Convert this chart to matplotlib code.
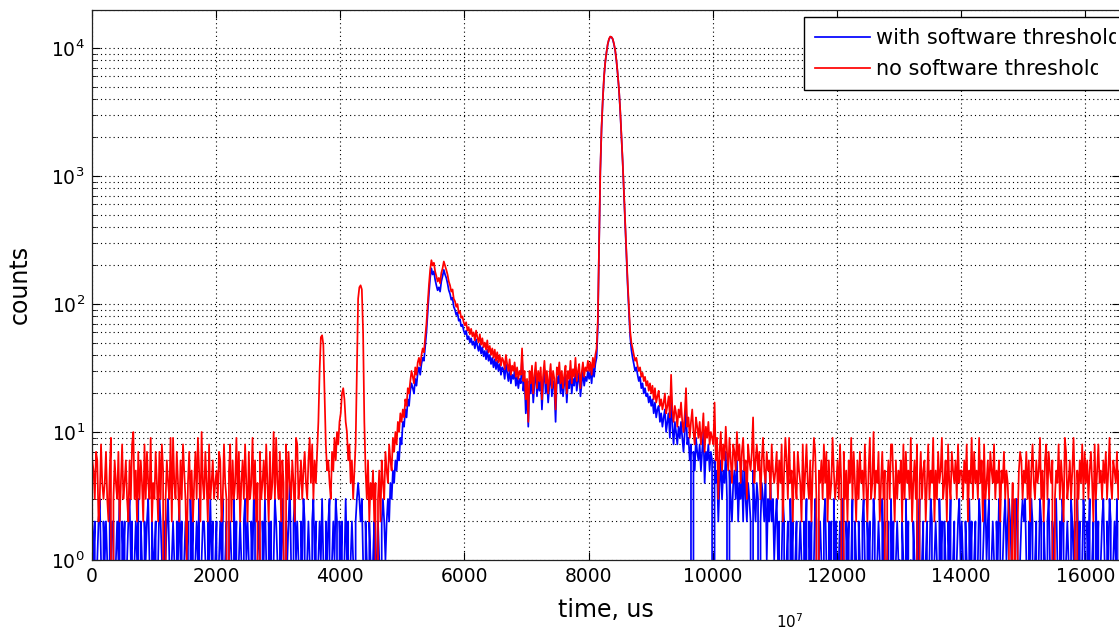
import numpy as np
import matplotlib
matplotlib.use("Agg")
import matplotlib.pyplot as plt
from matplotlib.ticker import LogLocator, FixedLocator, NullFormatter
from matplotlib.transforms import Bbox

# ---------------- data (histogram counts, 20 us bins, first bin centred at 10 us) ----------------
bin_width_us = 20
t_start_us = 10

red_counts = [
    # 0-1000
    6,5,3,7,6,2,3,8,4,3, 4,7,3,2,5,9,0,3,6,4, 3,7,2,4,8,3,4,6,3,2, 6,3,8,10,3,5,2,7,3,6, 4,2,8,3,7,4,3,9,2,4,
    # 1000-2000
    3,7,4,2,7,3,8,5,0,3, 6,4,3,9,2,9,4,3,7,4, 2,6,3,8,5,3,1,4,7,3, 5,2,4,7,3,9,5,2,10,4, 3,7,4,2,8,3,4,6,3,4,
    # 2000-3000
    5,3,7,6,2,3,8,4,3,0, 5,8,2,6,3,4,9,3,7,2, 4,6,3,8,4,2,7,3,4,9, 3,6,2,4,0,7,3,4,6,3, 8,4,2,7,3,4,10,3,9,4,
    # 3000-4000
    3,7,2,6,4,0,8,3,7,4, 3,6,4,2,9,8,3,4,6,3, 5,7,4,3,6,9,4,8,3,6, 4,7,12,30,55,57,48,20,8,5, 6,4,3,7,5,9,6,10,8,12,
    # 4000-5000
    14,20,22,18,12,10,6,8,4,6, 3,5,8,30,110,135,140,130,60,12, 5,3,6,2,4,3,5,2,4,0, 3,5,2,6,4,3,7,5,4,8, 6,5,9,7,10,8,12,10,14,12,
    # 5000-6000
    15,13,18,16,22,20,25,30,27,24, 32,28,35,38,33,40,45,42,55,70, 100,140,185,220,200,210,180,165,150,160,
    145,175,190,215,200,185,170,150,140,125, 130,110,105,95,100,85,88,78,80,72,
    # 6000-7000
    68,72,62,66,58,64,56,60,52,62, 55,50,58,48,54,46,50,44,52,42, 47,40,45,38,44,36,42,35,40,33,
    38,36,31,40,34,30,37,28,33,30, 35,27,32,26,30,28,45,25,30,18,
    # 7000-8000
    26,12,30,24,33,20,28,35,22,30, 25,32,18,28,36,24,30,20,27,34, 22,30,26,15,32,28,35,24,30,22,
    28,33,20,30,26,36,24,31,27,38, 25,30,34,22,29,35,27,32,30,36,
    # 8000-9000
    30,35,28,38,32,40,45,75,300,1100, 2400,4000,6000,7800,9300,10800,11800,12300,12200,11800,
    10800,9600,8000,6300,4800,3300,2100,1300,750,420, 260,150,95,62,50,45,40,36,38,33,
    30,32,27,29,25,27,23,25,21,24,
    # 9000-10000
    20,23,18,22,17,19,21,16,18,15, 17,20,14,16,19,13,28,15,12,16, 14,11,15,13,17,12,10,14,22,11,
    13,9,12,15,10,8,13,11,9,12, 8,10,14,7,11,9,12,8,10,9,
    # 10000-11000
    8,17,6,9,3,7,10,5,8,6, 11,7,5,9,6,4,8,7,5,10, 6,8,4,7,9,5,6,3,8,6, 5,7,13,4,6,8,5,7,3,6, 9,5,4,7,5,6,3,8,5,4,
    # 11000-12000
    5,7,3,6,4,8,2,5,9,6, 3,9,4,5,2,7,4,3,7,5, 4,2,8,3,5,8,4,3,6,2, 5,9,7,3,0,5,4,6,3,8, 4,7,2,6,3,4,9,5,3,4,
    # 12000-13000
    6,3,8,4,0,7,3,5,2,6, 4,9,3,7,4,2,6,3,7,4, 5,3,8,4,2,5,9,3,4,10, 3,5,4,7,2,4,7,3,5,0, 4,6,3,8,8,4,2,6,3,5,
    # 13000-14000
    4,6,2,8,3,7,4,5,3,9, 2,4,6,3,8,0,4,7,3,5, 6,2,4,8,3,5,4,9,2,5, 3,7,4,5,9,3,4,6,2,8, 4,3,7,5,4,6,3,8,4,5,
    # 14000-15000
    5,3,6,4,8,2,5,4,9,3, 7,4,5,3,9,4,6,2,8,3, 4,6,3,7,5,4,8,3,5,4, 6,2,5,4,7,3,5,4,2,0, 1,4,0,3,0,2,5,7,6,3,
    # 15000-16000
    5,4,7,3,6,2,5,8,4,3, 6,4,5,9,3,5,2,6,8,3, 7,5,4,6,0,3,5,4,8,3, 6,4,2,9,7,3,4,6,3,5, 9,4,0,5,3,6,4,8,3,7,
    # 16000-16560
    4,6,3,5,7,4,2,8,3,5, 8,4,5,3,6,4,7,3,5,9, 4,3,6,5,4,7,3,5,
]

blue_counts = [
    # 0-1000
    2,1,2,0,1,2,3,1,0,2, 1,2,1,0,3,1,2,2,0,1, 2,1,3,0,2,1,2,0,1,2, 3,1,2,0,1,2,1,3,0,2, 1,0,2,1,2,3,1,0,2,1,
    # 1000-2000
    1,2,0,1,3,2,1,0,2,1, 2,3,1,0,1,2,1,0,2,1, 3,1,2,0,1,2,1,2,0,3, 1,2,0,1,2,1,3,0,1,2, 2,1,0,2,1,3,1,2,0,1,
    # 2000-3000
    2,0,1,2,1,3,0,1,2,0, 1,2,1,0,3,1,2,0,1,2, 1,0,2,3,1,2,1,0,2,1, 3,2,0,1,2,1,0,2,1,3, 1,0,2,1,2,0,1,3,2,1,
    # 3000-4000
    0,2,1,3,1,0,2,1,2,4, 1,0,2,3,1,2,1,0,2,1, 3,2,0,1,2,1,0,2,3,1, 2,0,1,2,1,3,1,0,2,1, 2,3,0,1,2,1,3,2,0,2,
    # 4000-5000
    1,2,0,1,3,1,2,0,1,2, 1,0,2,3,4,3,2,3,1,0, 2,1,0,2,1,0,1,2,0,1, 2,1,0,2,3,2,1,2,3,2, 4,3,5,4,6,5,7,6,9,8,
    # 5000-6000
    12,11,15,13,18,16,21,24,22,20, 26,23,29,32,28,34,38,36,47,60, 85,120,160,190,170,180,155,140,128,135,
    125,150,165,185,170,160,145,128,120,108, 112,95,90,82,86,74,76,67,69,62,
    # 6000-7000
    58,62,53,56,50,54,48,51,45,53, 47,43,49,41,46,39,43,37,44,36, 40,34,38,32,37,31,36,30,34,28,
    32,31,26,34,29,25,31,24,28,26, 30,23,27,22,26,24,38,21,26,14,
    # 7000-8000
    22,11,25,20,28,17,24,30,19,25, 21,27,15,24,31,20,26,17,23,29, 19,25,22,12,27,24,30,20,26,19,
    24,28,17,25,22,31,20,26,23,32, 21,25,29,19,24,30,23,27,25,30,
    # 8000-9000
    26,30,24,32,27,34,38,66,290,1080, 2350,3950,5950,7750,9250,10700,11700,12200,12150,11700,
    10700,9500,7900,6250,4750,3250,2050,1280,740,410, 250,140,88,56,44,38,34,30,32,28,
    25,27,22,24,20,22,19,20,17,19,
    # 9000-10000
    16,18,14,17,13,15,16,12,14,11, 13,15,10,12,14,9,20,11,8,12, 10,8,11,9,12,9,7,10,15,8,
    9,6,8,0,7,5,9,7,6,8, 5,7,10,4,7,6,8,5,7,6,
    # 10000-11000
    0,6,4,5,2,4,6,3,5,4, 7,3,0,5,3,2,4,5,3,6, 2,4,3,5,2,6,3,2,4,3, 2,0,5,3,2,4,3,0,2,4, 3,2,5,1,3,2,4,2,3,1,
    # 11000-12000
    2,3,1,2,0,1,3,2,0,1, 2,0,3,1,2,0,1,2,0,1, 2,1,0,2,1,3,0,2,1,2, 0,1,3,2,0,1,2,1,0,2, 3,1,0,2,1,2,0,3,1,2,
    # 12000-13000
    0,1,2,0,3,1,0,2,1,2, 0,1,3,0,2,1,0,2,1,0, 2,3,1,0,2,1,2,0,1,3, 2,0,1,2,1,0,3,1,2,0, 1,2,0,3,1,2,0,1,2,1,
    # 13000-14000
    1,0,2,1,0,3,1,2,0,1, 0,2,1,0,2,1,3,0,1,2, 0,1,2,0,1,3,2,0,1,2, 1,0,3,1,2,0,2,1,0,2, 1,3,0,1,2,0,1,2,3,1,
    # 14000-15000
    2,1,0,2,1,0,3,1,2,0, 1,2,0,1,3,2,0,1,2,3, 1,2,3,0,1,2,1,0,2,1, 3,2,0,1,2,3,1,2,3,2, 1,3,2,1,3,2,0,1,2,3,
    # 15000-16000
    2,3,1,0,2,1,3,2,0,1, 2,0,1,3,2,0,2,1,0,2, 3,1,0,2,1,2,3,1,0,2, 1,3,2,0,1,2,1,0,3,2, 1,2,0,3,1,2,0,1,3,2,
    # 16000-16560
    0,2,1,3,0,1,2,0,3,1, 2,0,1,2,3,1,0,2,1,3, 2,0,1,2,1,3,0,2,
]

series_labels = ["with software threshold", "no software threshold"]
x_ticks = [0, 2000, 4000, 6000, 8000, 10000, 12000, 14000, 16000]
y_major = [1, 10, 100, 1000, 10000]

t_red = t_start_us + bin_width_us * np.arange(len(red_counts))
t_blue = t_start_us + bin_width_us * np.arange(len(blue_counts))

# ---------------- figure ----------------
W, H = 1119, 630
fig = plt.figure(figsize=(W / 100, H / 100), dpi=100)
left_px, right_px, top_px, bottom_px = 91.7, 1120.1, 9.5, 560.0
ax = fig.add_axes([left_px / W, 1 - bottom_px / H,
                   (right_px - left_px) / W, (bottom_px - top_px) / H])

ax.plot(t_blue, np.array(blue_counts, float), color=(0, 0, 1), lw=1.25,
        label=series_labels[0])
ax.plot(t_red, np.array(red_counts, float), color=(1, 0, 0), lw=1.25,
        label=series_labels[1])

ax.set_yscale("log")
ax.set_xlim(0, 16560)
ax.set_ylim(1, 20000)

ax.xaxis.set_major_locator(FixedLocator(x_ticks))
ax.set_xticklabels([str(v) for v in x_ticks])
ax.yaxis.set_major_locator(FixedLocator(y_major))
ax.set_yticklabels([r"$10^{%d}$" % int(np.log10(v)) for v in y_major])
ax.yaxis.set_minor_locator(LogLocator(base=10, subs=np.arange(2, 10)))
ax.yaxis.set_minor_formatter(NullFormatter())

ax.tick_params(which="both", direction="in", top=True, right=True,
               labelsize=13.5, colors="black")
ax.tick_params(which="major", length=6, width=0.8, pad=5)
ax.tick_params(which="minor", length=3, width=0.6)

grid_style = dict(color="black", linestyle=(0, (1, 2.8)), lw=0.8)
ax.grid(True, which="major", axis="both", **grid_style)
ax.grid(True, which="minor", axis="y", **grid_style)
for s in ax.spines.values():
    s.set_linewidth(0.9)
    s.set_color("#222222")

ax.set_xlabel("time, us", fontsize=17, labelpad=9)
ax.set_ylabel("counts", fontsize=17, labelpad=14)

leg = ax.legend(loc="upper left",
                bbox_to_anchor=(804 / W, 1 - 17 / H),
                bbox_transform=fig.transFigure,
                fontsize=15, frameon=True, fancybox=False,
                edgecolor="black", framealpha=1.0,
                handlelength=2.6, handletextpad=0.3, borderpad=0.55,
                labelspacing=0.5, borderaxespad=0)
leg.get_frame().set_linewidth(1.0)

fig.text(790 / W, 1.5 / H, r"$10^{7}$", fontsize=11, ha="center", va="baseline")

# in the original rendering the last letter of each legend string was clipped
fig.canvas.draw()
renderer = fig.canvas.get_renderer()
for txt in leg.get_texts():
    bb = txt.get_window_extent(renderer)
    txt.set_clip_box(Bbox.from_extents(bb.x0 - 20, bb.y0 - 20, bb.x1 - 4.8, bb.y1 + 20))
    txt.set_clip_on(True)

fig.savefig("out.png", dpi=100)
